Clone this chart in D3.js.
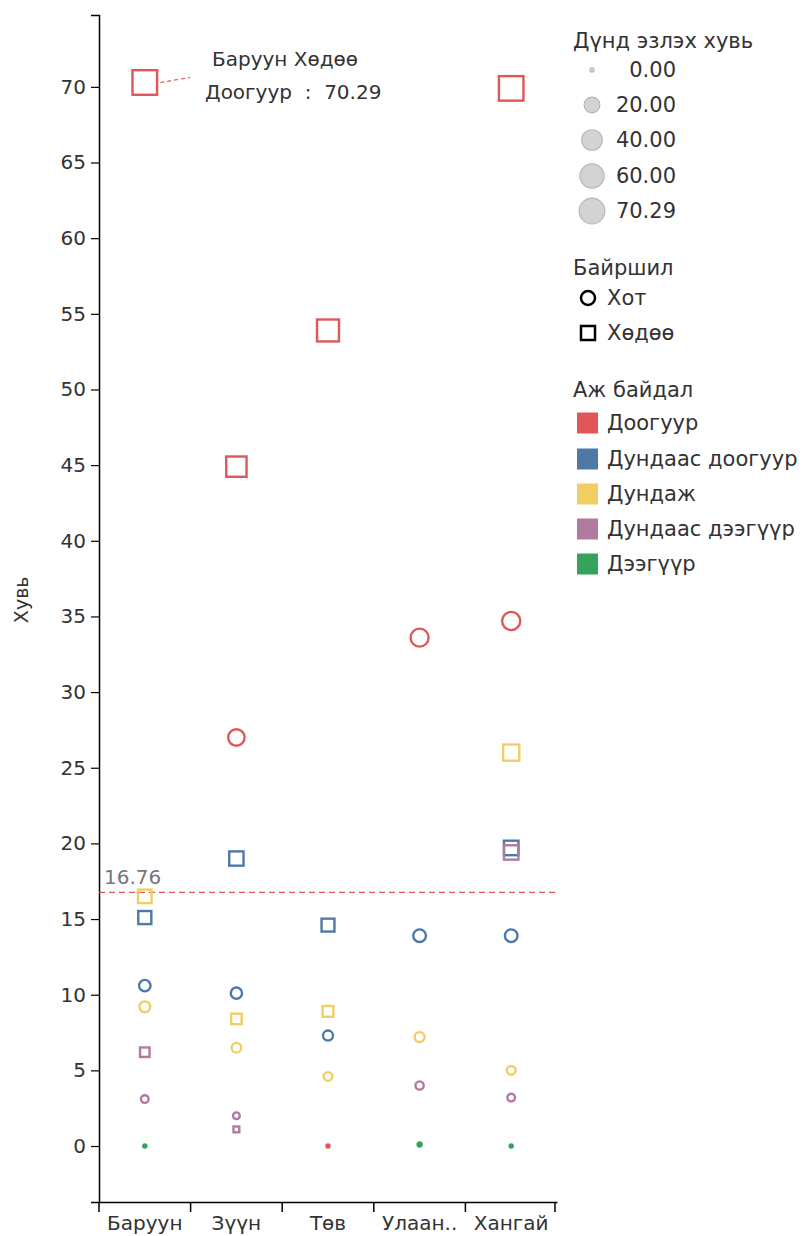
<!DOCTYPE html>
<html>
<head>
<meta charset="utf-8">
<script src="https://cdn.jsdelivr.net/npm/d3@7"></script>
<style>
  html, body { margin: 0; padding: 0; background: #fff; }
  svg { display: block; font-family: "DejaVu Sans", "Open Sans", sans-serif; }
</style>
</head>
<body>
<svg id="chart" width="802" height="1236"></svg>
<script>
// ---- data ----
const regions = ["Баруун", "Зүүн", "Төв", "Улаан..", "Хангай"];
const locations = ["Хот", "Хөдөө"];
const levels = ["Доогуур", "Дундаас доогуур", "Дундаж", "Дундаас дээгүүр", "Дээгүүр"];
const levelColors = ["#e15759", "#4e79a7", "#f1ce63", "#b07aa1", "#36a35a"];

// values per region (null = no mark)
const hotDoogur          = [null, 27.0, 0.0, 33.6, 34.7];
const hotDundaasDoogur   = [10.6, 10.1, 7.3, 13.9, 13.9];
const hotDundaj          = [9.2, 6.5, 4.6, 7.2, 5.0];
const hotDundaasDeegur   = [3.1, 2.0, null, 4.0, 3.2];
const hotDeegur          = [0.0, null, null, 0.1, 0.0];

const hodooDoogur        = [70.29, 44.9, 53.9, null, 69.9];
const hodooDundaasDoogur = [15.1, 19.0, 14.6, null, 19.7];
const hodooDundaj        = [16.5, 8.4, 8.9, null, 26.0];
const hodooDundaasDeegur = [6.2, 1.1, null, null, 19.4];
const hodooDeegur        = [null, null, null, null, null];

const yTicks = d3.range(0, 71, 5);
const sizeLegendValues = [0, 20, 40, 60, 70.29];
const referenceValue = 16.76;
const annotation = { region: "Баруун", location: "Хөдөө", level: "Доогуур", value: 70.29 };

// ---- build rows ----
const series = [
  [0, 0, hotDoogur], [0, 1, hotDundaasDoogur], [0, 2, hotDundaj], [0, 3, hotDundaasDeegur], [0, 4, hotDeegur],
  [1, 0, hodooDoogur], [1, 1, hodooDundaasDoogur], [1, 2, hodooDundaj], [1, 3, hodooDundaasDeegur], [1, 4, hodooDeegur]
];
const rows = [];
series.forEach(([li, lv, vals]) => {
  vals.forEach((v, ri) => {
    if (v !== null) rows.push({ region: regions[ri], location: locations[li], level: levels[lv], li, lv, value: v });
  });
});
rows.sort((a, b) => b.value - a.value);

// ---- layout ----
const svg = d3.select("#chart");
const plot = { left: 99, right: 557, top: 15, bottom: 1202 };
const textColor = "#333";
const fs = "20px";
const lfs = "21px";

const x = d3.scaleBand().domain(regions).range([plot.left, plot.right]);
const y = d3.scaleLinear().domain([-3.7, 74.75]).range([plot.bottom, plot.top]);
const size = d3.scaleSqrt().domain([0, 70.29]).range([5.5, 27]);
const color = d3.scaleOrdinal().domain(levels).range(levelColors);

// Y axis
const yAxis = svg.append("g")
  .attr("transform", `translate(${plot.left},0)`)
  .call(d3.axisLeft(y).tickValues(yTicks).tickSize(8).tickPadding(5).tickFormat(d3.format("d")));
yAxis.select(".domain").attr("stroke", "#000").attr("stroke-width", 1.5);
yAxis.selectAll(".tick line").attr("stroke", "#000").attr("stroke-width", 1.2);
yAxis.selectAll(".tick text").attr("fill", textColor).style("font-size", fs).style("font-family", "DejaVu Sans");

// X axis
const xAxis = svg.append("g")
  .attr("transform", `translate(0,${plot.bottom})`)
  .call(d3.axisBottom(x).tickSize(0).tickPadding(0));
xAxis.select(".domain").attr("stroke", "#000").attr("stroke-width", 1.5);
xAxis.selectAll(".tick text").attr("fill", textColor).style("font-size", fs).style("font-family", "DejaVu Sans")
  .attr("y", 28).attr("dy", 0);
// band boundary ticks
const boundaries = regions.map(r => x(r)).concat([plot.right - 2]);
xAxis.selectAll(".bt").data(boundaries).join("line")
  .attr("x1", d => d).attr("x2", d => d).attr("y1", 0).attr("y2", 10)
  .attr("stroke", "#000").attr("stroke-width", 1.5);

// Y axis title
svg.append("text")
  .attr("transform", `translate(28,${y(36.1)}) rotate(-90)`)
  .attr("text-anchor", "middle")
  .attr("fill", textColor).style("font-size", "19px")
  .text("Хувь");

// Reference line
svg.append("line")
  .attr("x1", plot.left).attr("x2", plot.right - 2)
  .attr("y1", y(referenceValue)).attr("y2", y(referenceValue))
  .attr("stroke", "#e15759").attr("stroke-width", 1.3).attr("stroke-dasharray", "6,4");
svg.append("text")
  .attr("x", 104).attr("y", y(referenceValue) - 8)
  .attr("fill", "#777").style("font-size", fs)
  .text(d3.format(".2f")(referenceValue));

// Marks
const sw = 2.4;
const cx = d => x(d.region) + x.bandwidth() / 2;
const marks = svg.append("g");
rows.forEach(d => {
  const dd = size(d.value);
  const c = color(d.level);
  const small = dd < 7;
  if (d.li === 0) {
    marks.append("circle")
      .attr("cx", cx(d)).attr("cy", y(d.value))
      .attr("r", small ? dd / 2 : dd / 2 - sw / 2)
      .attr("fill", small ? c : "none").attr("stroke", small ? "none" : c).attr("stroke-width", sw);
  } else {
    const s = small ? dd : dd - sw;
    marks.append("rect")
      .attr("x", cx(d) - s / 2).attr("y", y(d.value) - s / 2)
      .attr("width", s).attr("height", s)
      .attr("fill", small ? c : "none").attr("stroke", small ? "none" : c).attr("stroke-width", sw);
  }
});

// Annotation
const aRow = rows.find(r => r.region === annotation.region && r.location === annotation.location && r.level === annotation.level);
const ax = cx(aRow) + size(aRow.value) / 2 + 2;
const ay = y(aRow.value);
svg.append("line")
  .attr("x1", ax).attr("y1", ay).attr("x2", ax + 30).attr("y2", ay - 5)
  .attr("stroke", "#e15759").attr("stroke-width", 1.2).attr("stroke-dasharray", "4,3");
svg.append("text").attr("x", 212).attr("y", 66)
  .attr("fill", textColor).style("font-size", fs)
  .text(`${annotation.region} ${annotation.location}`);
svg.append("text").attr("x", 205).attr("y", 99)
  .attr("fill", textColor).style("font-size", fs).attr("xml:space", "preserve")
  .text(`${annotation.level}  :  ${d3.format(".2f")(annotation.value)}`);

// Legends
const lg = svg.append("g");
lg.append("text").attr("x", 573).attr("y", 48).attr("fill", textColor).style("font-size", lfs).text("Дүнд эзлэх хувь");
const sizeY = [70, 105, 140, 176, 211];
sizeLegendValues.forEach((v, i) => {
  lg.append("circle").attr("cx", 592).attr("cy", sizeY[i]).attr("r", Math.max(size(v) / 2 - 0.6, 1.8))
    .attr("fill", "#d3d3d3").attr("stroke", "#b8b8b8").attr("stroke-width", 1.2);
  lg.append("text").attr("x", 676).attr("y", sizeY[i]).attr("dy", "0.35em").attr("text-anchor", "end")
    .attr("fill", textColor).style("font-size", lfs).text(d3.format(".2f")(v));
});

lg.append("text").attr("x", 573).attr("y", 275).attr("fill", textColor).style("font-size", lfs).text("Байршил");
const locY = [298, 333];
locations.forEach((l, i) => {
  if (i === 0) {
    lg.append("circle").attr("cx", 588).attr("cy", locY[i]).attr("r", 7).attr("fill", "none").attr("stroke", "#000").attr("stroke-width", 2.5);
  } else {
    lg.append("rect").attr("x", 581).attr("y", locY[i] - 7).attr("width", 14).attr("height", 14).attr("fill", "none").attr("stroke", "#000").attr("stroke-width", 2.5);
  }
  lg.append("text").attr("x", 607).attr("y", locY[i]).attr("dy", "0.35em").attr("fill", textColor).style("font-size", lfs).text(l);
});

lg.append("text").attr("x", 573).attr("y", 397).attr("fill", textColor).style("font-size", lfs).text("Аж байдал");
const levY = [423, 459, 494, 529, 564];
levels.forEach((l, i) => {
  lg.append("rect").attr("x", 577).attr("y", levY[i] - 10.5).attr("width", 21).attr("height", 21).attr("fill", color(l));
  lg.append("text").attr("x", 607).attr("y", levY[i]).attr("dy", "0.35em").attr("fill", textColor).style("font-size", lfs).text(l);
});
</script>
</body>
</html>
